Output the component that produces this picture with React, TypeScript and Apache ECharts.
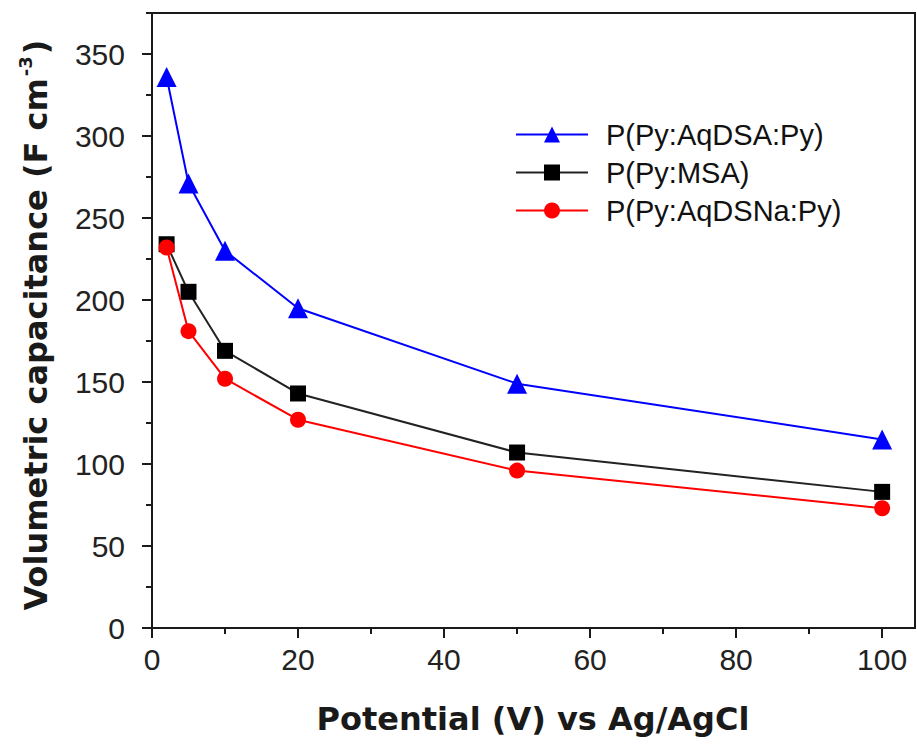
import React, { useEffect, useRef } from "react";
import * as echarts from "echarts";

// Scan rate / potential values on the x axis
const potential = [2, 5, 10, 20, 50, 100];

// Volumetric capacitance (F cm^-3) of each film
const aqdsaValues = [336, 271, 230, 195, 149, 115];
const msaValues = [234, 205, 169, 143, 107, 83];
const aqdsnaValues = [232, 181, 152, 127, 96, 73];

const seriesNames = ["P(Py:AqDSA:Py)", "P(Py:MSA)", "P(Py:AqDSNa:Py)"];

const xMajorTicks = [0, 20, 40, 60, 80, 100];
const xMinorTicks = [10, 30, 50, 70, 90];
const yMajorTicks = [0, 50, 100, 150, 200, 250, 300, 350];
const yMinorTicks = [25, 75, 125, 175, 225, 275, 325, 375];

const pairs = (ys: number[]) => potential.map((x, i) => [x, ys[i]]);

export default function App() {
  const ref = useRef<HTMLDivElement>(null);

  useEffect(() => {
    document.body.style.margin = "0";
    if (!ref.current) return;
    const chart = echarts.init(ref.current, undefined, { renderer: "svg" });

    const axisColor = "#1a1a1a";
    const labelFont = {
      fontFamily: "Liberation Sans, Arial, sans-serif",
      fontSize: 30,
      color: "#222",
    };

    chart.setOption({
      animation: false,
      backgroundColor: "#fff",
      grid: {
        left: 152,
        right: 2,
        top: 13,
        bottom: 116,
        show: true,
        borderColor: axisColor,
        borderWidth: 2,
        containLabel: false,
      },
      xAxis: [
        {
          type: "value",
          min: 0,
          max: 104.5,
          interval: 20,
          axisLine: { show: true, lineStyle: { color: axisColor, width: 2 } },
          axisTick: {
            show: true,
            inside: false,
            length: 10,
            customValues: xMajorTicks,
            lineStyle: { color: axisColor, width: 2 },
          },
          axisLabel: { ...labelFont, margin: 16, customValues: xMajorTicks },
          splitLine: { show: false },
        },
        {
          type: "value",
          position: "bottom",
          min: 0,
          max: 104.5,
          axisLine: { show: false },
          axisTick: {
            show: true,
            inside: false,
            length: 6,
            customValues: xMinorTicks,
            lineStyle: { color: axisColor, width: 2 },
          },
          axisLabel: { show: false },
          splitLine: { show: false },
        },
      ],
      yAxis: [
        {
          type: "value",
          min: 0,
          max: 375,
          interval: 50,
          axisLine: { show: true, lineStyle: { color: axisColor, width: 2 } },
          axisTick: {
            show: true,
            inside: false,
            length: 10,
            customValues: yMajorTicks,
            lineStyle: { color: axisColor, width: 2 },
          },
          axisLabel: { ...labelFont, margin: 27, customValues: yMajorTicks },
          splitLine: { show: false },
        },
        {
          type: "value",
          position: "left",
          min: 0,
          max: 375,
          axisLine: { show: false },
          axisTick: {
            show: true,
            inside: false,
            length: 6,
            customValues: yMinorTicks,
            lineStyle: { color: axisColor, width: 2 },
          },
          axisLabel: { show: false },
          splitLine: { show: false },
        },
      ],
      legend: {
        orient: "vertical",
        left: 510,
        top: 115,
        itemWidth: 72,
        itemHeight: 20,
        itemGap: 9,
        data: seriesNames,
        textStyle: {
          fontFamily: "Liberation Sans, Arial, sans-serif",
          fontSize: 29,
          color: "#111",
          padding: [0, 0, 0, 13],
        },
      },
      series: [
        {
          name: seriesNames[0],
          type: "line",
          data: pairs(aqdsaValues),
          symbol: "triangle",
          symbolSize: 20,
          color: "#0000ff",
          lineStyle: { width: 2, color: "#0000ff" },
          itemStyle: { color: "#0000ff" },
          z: 3,
        },
        {
          name: seriesNames[1],
          type: "line",
          data: pairs(msaValues),
          symbol: "rect",
          symbolSize: 16,
          color: "#000",
          lineStyle: { width: 2, color: "#222" },
          itemStyle: { color: "#000" },
          z: 2,
        },
        {
          name: seriesNames[2],
          type: "line",
          data: pairs(aqdsnaValues),
          symbol: "circle",
          symbolSize: 16,
          color: "#ff0000",
          lineStyle: { width: 2, color: "#ff0000" },
          itemStyle: { color: "#ff0000" },
          z: 4,
        },
      ],
      graphic: [
        {
          type: "text",
          x: 533,
          y: 719,
          style: {
            text: "Potential (V) vs Ag/AgCl",
            fontFamily: "DejaVu Sans, sans-serif",
            fontWeight: "bold",
            fontSize: 32,
            fill: "#1a1a1a",
            align: "center",
            verticalAlign: "middle",
          },
        },
        {
          type: "text",
          x: 36,
          y: 325,
          rotation: Math.PI / 2,
          style: {
            text: "{m|Volumetric capacitance (F cm}{s|-3}{m|)}",
            align: "center",
            verticalAlign: "middle",
            fill: "#1a1a1a",
            rich: {
              m: {
                fontFamily: "DejaVu Sans, sans-serif",
                fontWeight: "bold",
                fontSize: 32,
                fill: "#1a1a1a",
                lineHeight: 40,
              },
              s: {
                fontFamily: "DejaVu Sans, sans-serif",
                fontWeight: "bold",
                fontSize: 18,
                fill: "#1a1a1a",
                verticalAlign: "top",
                lineHeight: 40,
                padding: [0, 2, 18, 2],
              },
            },
          },
        },
      ],
    });

    return () => chart.dispose();
  }, []);

  return <div ref={ref} style={{ width: 917, height: 744 }} />;
}
